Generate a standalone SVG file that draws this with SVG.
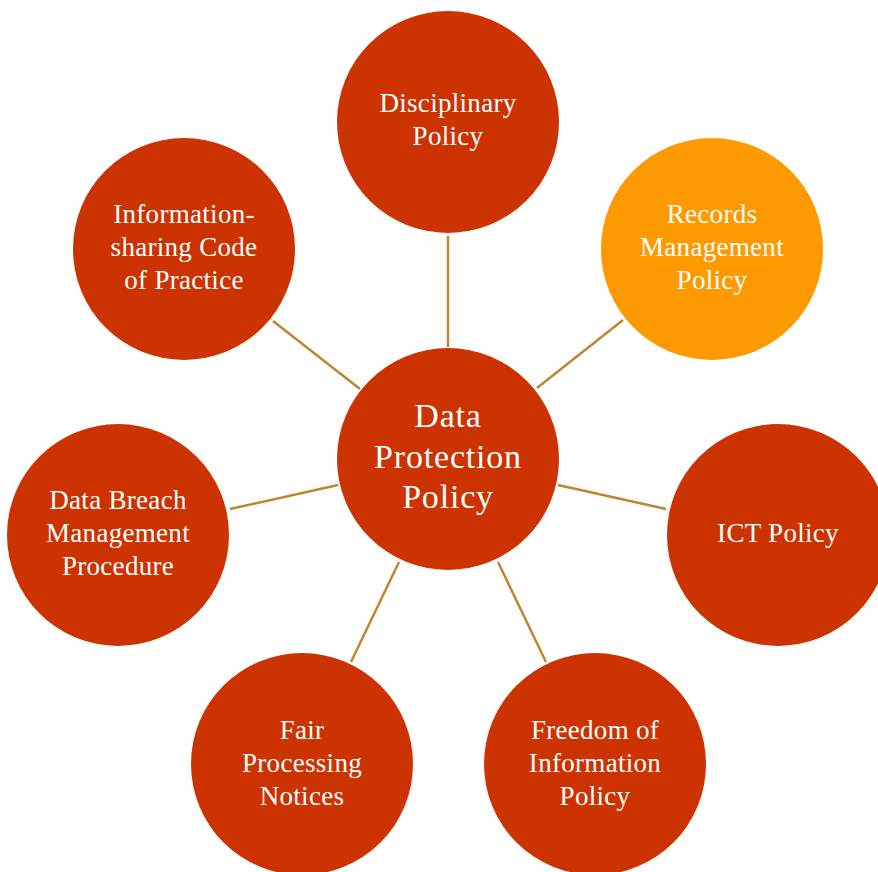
<svg xmlns="http://www.w3.org/2000/svg" width="878" height="872" viewBox="0 0 878 872">
<style>
.n{fill:#CC3300}
.o{fill:#FF9900}
.t{font-family:"Liberation Serif",serif;font-size:27px;fill:#FFFFFF;text-anchor:middle;letter-spacing:0.3px}
.c{font-family:"Liberation Serif",serif;font-size:34px;fill:#FFFFFF;text-anchor:middle;letter-spacing:0.8px}
#connectors line{stroke:#BF8630;stroke-width:2.5;fill:none}
</style>
<rect width="878" height="872" fill="#FFFFFF"/>
<g id="connectors">
<line x1="448" y1="236" x2="448" y2="347"/>
<line x1="623" y1="320" x2="537" y2="388"/>
<line x1="273" y1="321" x2="360" y2="389"/>
<line x1="230" y1="509" x2="338" y2="485"/>
<line x1="558" y1="485" x2="666" y2="509"/>
<line x1="351" y1="662" x2="399" y2="562"/>
<line x1="546" y1="662" x2="498" y2="562"/>
</g>
<g id="center">
<circle class="n" cx="448" cy="459" r="111"/>
<text class="c" x="448" y="427">Data</text>
<text class="c" x="448" y="468">Protection</text>
<text class="c" x="448" y="508">Policy</text>
</g>
<g id="disciplinary">
<circle class="n" cx="448" cy="122" r="111"/>
<text class="t" x="448" y="112">Disciplinary</text>
<text class="t" x="448" y="145">Policy</text>
</g>
<g id="records">
<circle class="o" cx="712" cy="249" r="111"/>
<text class="t" x="712" y="223">Records</text>
<text class="t" x="712" y="256">Management</text>
<text class="t" x="712" y="289">Policy</text>
</g>
<g id="infosharing">
<circle class="n" cx="184" cy="249" r="111"/>
<text class="t" x="184" y="223">Information-</text>
<text class="t" x="184" y="256">sharing Code</text>
<text class="t" x="184" y="289">of Practice</text>
</g>
<g id="ict">
<circle class="n" cx="778" cy="535" r="111"/>
<text class="t" x="778" y="542">ICT Policy</text>
</g>
<g id="breach">
<circle class="n" cx="118" cy="535" r="111"/>
<text class="t" x="118" y="509">Data Breach</text>
<text class="t" x="118" y="542">Management</text>
<text class="t" x="118" y="575">Procedure</text>
</g>
<g id="fair">
<circle class="n" cx="302" cy="764" r="111"/>
<text class="t" x="302" y="739">Fair</text>
<text class="t" x="302" y="772">Processing</text>
<text class="t" x="302" y="805">Notices</text>
</g>
<g id="freedom">
<circle class="n" cx="595" cy="764" r="111"/>
<text class="t" x="595" y="739">Freedom of</text>
<text class="t" x="595" y="772">Information</text>
<text class="t" x="595" y="805">Policy</text>
</g>
</svg>
